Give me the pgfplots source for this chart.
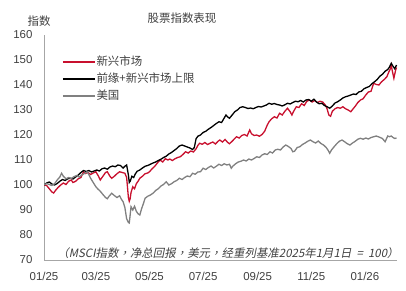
\documentclass[border=0pt]{standalone}
\usepackage{pgfplots}
\pgfplotsset{compat=1.18}
\usepackage{fontspec}
\setmainfont{Liberation Sans}
\newfontfamily\cjk{Noto Sans CJK SC}
\newfontfamily\cjkit[FakeSlant=0.2]{Noto Sans CJK TC}
\definecolor{emred}{RGB}{200,16,46}
\definecolor{usgray}{RGB}{128,128,128}
\definecolor{axisgray}{RGB}{166,166,166}
\definecolor{labelgray}{RGB}{64,64,64}
\newcommand{\lbl}{\fontsize{11.5}{13}\selectfont}

\begin{document}
\begin{tikzpicture}
\useasboundingbox (-44bp,-31bp) rectangle (362bp,260bp);
\begin{axis}[
  at={(0,0)}, anchor=south west,
  scale only axis, width=353.4bp, height=225bp,
  xmin=0, xmax=402, ymin=70, ymax=160,
  axis x line*=bottom, axis y line*=left,
  axis line style={draw=axisgray, line width=0.8bp},
  major tick length=0pt,
  xtick={0,59,120,181,243,304,365},
  xticklabels={01/25,03/25,05/25,07/25,09/25,11/25,01/26},
  ytick={70,80,...,160},
  tick label style={font=\lbl, text=labelgray},
  /pgf/number format/assume math mode=true,
  xticklabel style={yshift=-9bp},
  yticklabel style={xshift=-8bp},
  legend cell align=left,
  legend image code/.code={\draw[#1] (0bp,0bp) -- (32bp,0bp);},
  legend style={at={(0.051,0.91)}, anchor=north west, draw=none, fill=none,
    inner sep=0pt, font=\lbl\cjk, text=labelgray, row sep=4bp,
    nodes={inner sep=1bp, text height=9bp, text depth=2bp}},
]
\addplot[emred, line width=1.3bp] table {
0 100
3 99.8
6 98.5
9 97.2
11 96.8
13 97.8
16 99
19 100
22 100.8
25 100.2
28 101.5
31 102
33 101
36 101.5
39 102.5
42 103
45 105.3
47 104.6
50 105
53 104.2
56 104.8
59 105.3
62 103.5
64 102
67 103.5
70 105
72 105.3
75 103.5
77 102.7
80 103.5
83 104.5
86 105.3
89 105
92 104.7
94 103
95 99
96 95
97 93.5
98 94.5
99 97
101 99.3
103 98.5
105 100.5
107 101.5
109 102.7
112 103.5
115 104.5
118 104.8
120 105.3
123 106.5
126 107.5
129 108.8
132 110
135 109.2
138 110.5
141 110
143 110.4
146 109.8
149 110.5
152 111
155 111.3
158 112.2
161 113.3
164 112.8
167 113.6
170 113.2
173 114.5
175 115.8
177 116.7
180 116.3
183 117
186 116.2
189 116.7
192 117.2
195 116.4
198 117.5
200 118
203 117.2
206 118.2
209 117
211 116.5
214 117.5
217 118.6
219 119.3
222 118.8
225 119.8
228 120.2
231 119.6
234 122
236 120.5
239 119.8
242 120
245 119.5
248 120.2
251 121.5
254 124
256 125.3
259 126.5
262 127.3
265 126.8
268 128.7
271 128
274 129.5
277 130.7
280 129.3
282 128
284 129.5
287 131.3
290 131
293 132.5
296 131.8
299 133.5
302 134
305 133.2
308 133.8
311 133
314 133.5
317 133.2
320 132
322 130.5
324 128
326 127.5
328 129.5
331 130.5
334 131
337 130.7
340 131.3
343 130.5
346 130
349 129.3
351 130.2
354 131.5
357 133
360 134
363 134.5
366 136
369 137.2
372 137.5
375 140.7
378 140.2
381 140
384 141.3
387 142.2
390 143.3
392 145
394 146.5
395 148
396 146
398 142.7
400 146
401 147
};
\addlegendentry{新兴市场}
\addplot[black, line width=1.3bp] table {
0 100
3 100.8
6 101.2
9 100.4
12 100
15 100.6
18 101.5
21 102.2
24 101.8
27 102.5
30 102.7
33 102.4
36 103.2
39 104
42 105
45 105.8
48 105.4
51 105.8
54 105.2
57 105.6
60 106
63 105.6
66 106.5
69 106.8
72 106.3
75 107.2
78 107.6
81 107.3
84 108
87 107.8
90 106.8
92 107.5
94 108
96 104
97 101
98 101.5
100 103.5
102 103
104 104.5
106 105.5
109 106
112 106.8
115 107.5
118 107.8
121 108.3
124 108.8
127 109.2
130 109.8
133 110.3
136 111
139 111.5
142 112.4
145 113
148 113.8
151 114.6
154 115.6
157 116
160 115.6
163 115.2
166 114.8
169 114.2
171 115
173 118.5
175 119.5
178 120
181 121
184 121.5
187 122.3
190 123
193 123.8
196 124.6
199 125.3
202 125
205 126.8
207 128
209 127.2
211 126.7
214 128
217 129.3
220 130
223 131
226 131.3
229 131
232 130.6
235 130.8
238 130.5
241 131
244 131.4
247 131.2
250 131.6
253 132
256 132.7
259 132.3
262 132.6
265 132.2
268 132
271 131.6
274 132.1
277 132.7
280 132.4
283 133
286 133.5
289 133.3
292 133.8
295 133.2
298 134
301 134.2
304 133.5
307 134.3
310 133.2
313 132.5
316 132.7
319 131.8
322 131.3
325 130.7
328 131.6
331 132.8
334 133.3
337 134
340 134.8
343 135.3
346 135.6
349 136
352 136.4
355 136.2
358 137.2
361 137.5
364 138.5
367 139
370 139.4
373 140.5
376 141.3
379 142.2
382 143.5
385 144.3
388 145.5
391 146.2
393 147.2
395 148.7
397 147.5
399 146.5
401 148
};
\addlegendentry{前缘+新兴市场上限}
\addplot[usgray, line width=1.3bp] table {
0 100
3 100.6
6 100.2
9 99.8
12 100.5
15 102
18 103.2
20 104.7
22 103.5
25 102.5
28 103
31 102.6
34 103.3
37 103.8
40 103.2
43 104
46 104.6
49 105.3
51 104.2
53 102.7
56 101
59 99.3
61 98.5
64 97.5
67 96.2
70 95
72 94.5
74 95.5
77 96.7
80 95.8
83 95
86 95.7
88 94.3
90 93.3
92 91
94 86.5
96 85
97 84.8
98 88
99 91.3
101 90
103 91.5
105 89.5
107 88.5
109 88
111 90.5
113 92.5
115 94.7
118 95.5
121 96
124 96.7
127 97.8
130 98.5
133 99.6
136 100.2
139 101.3
142 100
145 100.5
148 101.3
151 101.8
154 102.7
157 102.2
160 103
163 103.6
166 103.3
169 104.7
172 104.3
175 105.2
178 105.3
181 106.7
184 106.2
187 107
190 107.6
193 106.8
196 107.5
199 108.3
202 107.8
205 108.5
208 108
211 108.3
213 106.7
215 107.6
218 108.5
221 109.2
224 109.5
227 110
230 109.6
233 110.4
236 110
239 110.6
242 111.3
245 111
248 112
251 112.5
254 112.2
257 113.3
260 112.8
263 114
266 114.3
269 114
272 115.2
275 116
278 115.4
281 114.6
283 113.3
285 113.5
288 115
291 115.3
294 116.2
297 116.8
300 117.5
303 118
306 117.3
309 116.8
312 117.6
315 116.6
318 116
321 115
323 114
325 112.7
327 114
330 115.3
333 116.5
336 117.5
339 118
342 117.3
345 116.5
348 116
351 116.8
354 117.5
357 118.3
360 118.7
363 118.3
366 118.8
369 118.4
372 119
375 119.3
378 119.6
381 119.2
385 118.6
388 117.3
391 119.6
393 119.3
395 119.6
397 119
399 118.6
401 118.8
};
\addlegendentry{美国}
\end{axis}
\node[font=\lbl\cjk, text=labelgray] at (138bp,242bp) {股票指数表现};
\node[font=\lbl\cjk, text=labelgray] at (-5bp,239bp) {指数};
\node[font=\lbl\cjkit, text=labelgray] at (184bp,7bp) {（MSCI指数，净总回报，美元，经重列基准2025年1月1日\ \ =\ \ 100）};
\end{tikzpicture}
\end{document}
